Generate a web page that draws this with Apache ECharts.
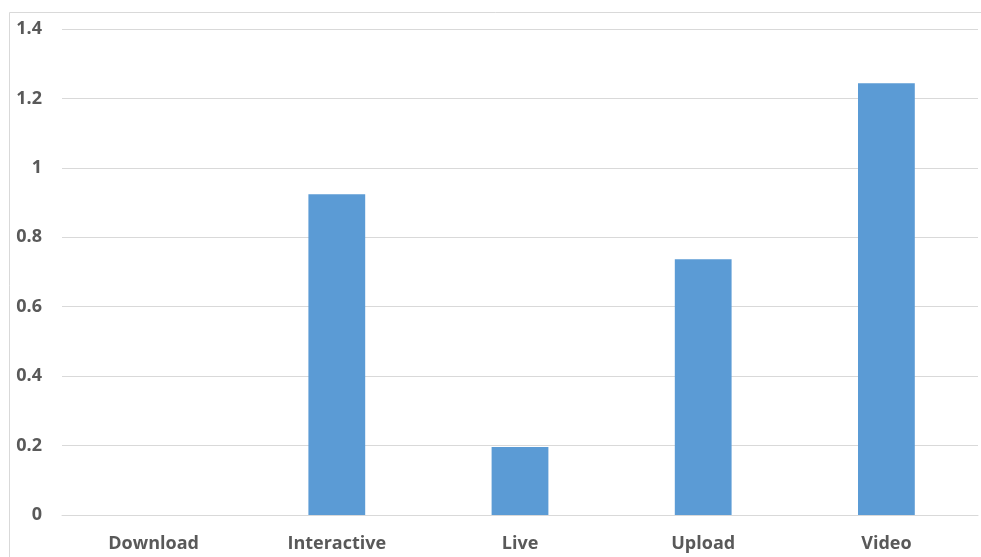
<!DOCTYPE html>
<html>
<head>
<meta charset="utf-8">
<script src="https://cdn.jsdelivr.net/npm/echarts@6/dist/echarts.min.js"></script>
<style>
html,body{margin:0;padding:0;background:#fff;}
#chart{width:981px;height:557px;}
</style>
</head>
<body>
<div id="chart"></div>
<script>
var categories = ["Download", "Interactive", "Live", "Upload", "Video"];
var values = [0, 0.924, 0.196, 0.737, 1.244];
var yTicks = { min: 0, max: 1.4, interval: 0.2 };

var chart = echarts.init(document.getElementById('chart'), null, { renderer: 'canvas' });
chart.setOption({
  animation: false,
  backgroundColor: '#ffffff',
  graphic: [{
    type: 'rect',
    left: 7, top: 10,
    shape: { x: 0.5, y: 0.5, width: 1000, height: 600 },
    style: { fill: 'none', stroke: '#d9d9d9', lineWidth: 1 },
    silent: true
  }],
  grid: { left: 62, right: 3, top: 29, bottom: 42, containLabel: false },
  xAxis: {
    type: 'category',
    data: categories,
    axisLine: { show: true, lineStyle: { color: '#d9d9d9', width: 1 } },
    axisTick: { show: false },
    axisLabel: {
      color: '#595959', fontFamily: 'Open Sans', fontWeight: 'bold', fontSize: 18, margin: 20
    }
  },
  yAxis: {
    type: 'value',
    min: yTicks.min, max: yTicks.max, interval: yTicks.interval,
    axisLine: { show: false },
    axisTick: { show: false },
    splitLine: { lineStyle: { color: '#d9d9d9', width: 1 } },
    axisLabel: {
      color: '#595959', fontFamily: 'Open Sans', fontWeight: 'bold', fontSize: 18, margin: 20,
      formatter: function (v) { return String(Math.round(v * 10) / 10); }
    }
  },
  series: [{
    type: 'bar',
    data: values,
    barWidth: '31%',
    itemStyle: { color: '#5b9bd5' }
  }]
});
</script>
</body>
</html>
